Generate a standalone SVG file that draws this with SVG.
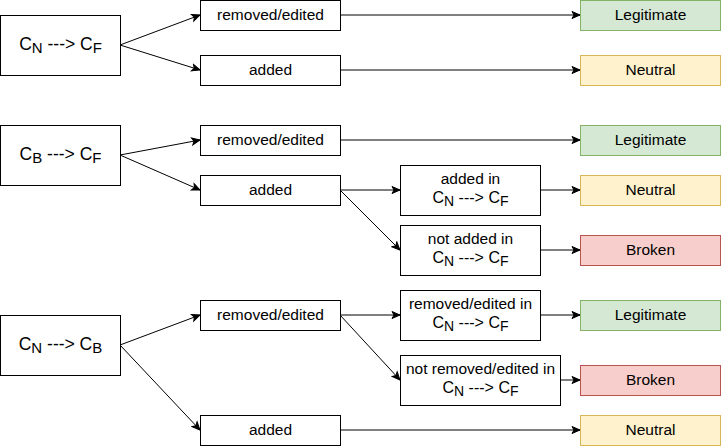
<svg xmlns="http://www.w3.org/2000/svg" width="721" height="446" viewBox="0 0 721 446">
<style>
  .box { fill: #ffffff; stroke: #000000; stroke-width: 1; }
  .legit { fill: #d5e8d4; stroke: #82b366; stroke-width: 1; }
  .neutral { fill: #fff2cc; stroke: #d6b656; stroke-width: 1; }
  .broken { fill: #f8cecc; stroke: #b85450; stroke-width: 1; }
  text { font-family: "Liberation Sans", Arial, Helvetica, sans-serif; fill: #000000; text-anchor: middle; }
  .lbl { font-size: 15.5px; }
  .big { font-size: 17.5px; }
  .bsub { font-size: 15px; }
  .ml { font-size: 16px; }
  .msub { font-size: 14px; }
  .edge { fill: none; stroke: #000000; stroke-width: 1; marker-end: url(#arrow); }
</style>
<defs>
  <marker id="arrow" markerUnits="userSpaceOnUse" markerWidth="10" markerHeight="10" viewBox="0 0 10 10" refX="9" refY="5" orient="auto">
    <path d="M1,1.5 L9,5 L1,8.5 L3,5 Z" fill="#000000" stroke="#000000" stroke-width="1"/>
  </marker>
</defs>
<rect width="721" height="446" fill="#ffffff"/>

<g id="connectors">
  <path class="edge" d="M120,45 L200,15"/>
  <path class="edge" d="M120,45 L200,70"/>
  <path class="edge" d="M340,15 L580,15"/>
  <path class="edge" d="M340,70 L580,70"/>

  <path class="edge" d="M120,155 L200,140"/>
  <path class="edge" d="M120,155 L200,190"/>
  <path class="edge" d="M340,140 L580,140"/>
  <path class="edge" d="M340,190 L400,190"/>
  <path class="edge" d="M340,190 L400,250"/>
  <path class="edge" d="M540,190 L580,190"/>
  <path class="edge" d="M540,250 L580,250"/>

  <path class="edge" d="M120,345 L200,315"/>
  <path class="edge" d="M120,345 L200,430"/>
  <path class="edge" d="M340,315 L400,315"/>
  <path class="edge" d="M340,315 L400,380"/>
  <path class="edge" d="M540,315 L580,315"/>
  <path class="edge" d="M560,380 L580,380"/>
  <path class="edge" d="M340,430 L580,430"/>
</g>

<!-- Group 1 -->
<g id="cn-cf-1">
  <rect class="box" x="0.5" y="15.5" width="120" height="60"/>
  <text class="big" x="60.5" y="49.5">C<tspan class="bsub" dy="3.5">N</tspan><tspan dy="-3.5"> ---&gt; C</tspan><tspan class="bsub" dy="3.5">F</tspan></text>
</g>
<g id="g1-removed">
  <rect class="box" x="200.5" y="0.5" width="140" height="30"/>
  <text class="lbl" x="270.5" y="20">removed/edited</text>
</g>
<g id="g1-added">
  <rect class="box" x="200.5" y="55.5" width="140" height="30"/>
  <text class="lbl" x="270.5" y="75">added</text>
</g>
<g id="g1-legit">
  <rect class="legit" x="580.5" y="0.5" width="140" height="30"/>
  <text class="lbl" x="650.5" y="20">Legitimate</text>
</g>
<g id="g1-neutral">
  <rect class="neutral" x="580.5" y="55.5" width="140" height="30"/>
  <text class="lbl" x="650.5" y="75">Neutral</text>
</g>

<!-- Group 2 -->
<g id="cb-cf">
  <rect class="box" x="0.5" y="125.5" width="120" height="60"/>
  <text class="big" x="60.5" y="159.5">C<tspan class="bsub" dy="3.5">B</tspan><tspan dy="-3.5"> ---&gt; C</tspan><tspan class="bsub" dy="3.5">F</tspan></text>
</g>
<g id="g2-removed">
  <rect class="box" x="200.5" y="125.5" width="140" height="30"/>
  <text class="lbl" x="270.5" y="145">removed/edited</text>
</g>
<g id="g2-added">
  <rect class="box" x="200.5" y="175.5" width="140" height="30"/>
  <text class="lbl" x="270.5" y="195">added</text>
</g>
<g id="g2-added-in">
  <rect class="box" x="400.5" y="165.5" width="140" height="50"/>
  <text class="lbl" x="470.5" y="184">added in</text>
  <text class="ml" x="470.5" y="203">C<tspan class="msub" dy="3">N</tspan><tspan dy="-3"> ---&gt; C</tspan><tspan class="msub" dy="3">F</tspan></text>
</g>
<g id="g2-not-added-in">
  <rect class="box" x="400.5" y="225.5" width="140" height="50"/>
  <text class="lbl" x="470.5" y="244">not added in</text>
  <text class="ml" x="470.5" y="263">C<tspan class="msub" dy="3">N</tspan><tspan dy="-3"> ---&gt; C</tspan><tspan class="msub" dy="3">F</tspan></text>
</g>
<g id="g2-legit">
  <rect class="legit" x="580.5" y="125.5" width="140" height="30"/>
  <text class="lbl" x="650.5" y="145">Legitimate</text>
</g>
<g id="g2-neutral">
  <rect class="neutral" x="580.5" y="175.5" width="140" height="30"/>
  <text class="lbl" x="650.5" y="195">Neutral</text>
</g>
<g id="g2-broken">
  <rect class="broken" x="580.5" y="235.5" width="140" height="30"/>
  <text class="lbl" x="650.5" y="255">Broken</text>
</g>

<!-- Group 3 -->
<g id="cn-cb">
  <rect class="box" x="0.5" y="315.5" width="120" height="60"/>
  <text class="big" x="60.5" y="349.5">C<tspan class="bsub" dy="3.5">N</tspan><tspan dy="-3.5"> ---&gt; C</tspan><tspan class="bsub" dy="3.5">B</tspan></text>
</g>
<g id="g3-removed">
  <rect class="box" x="200.5" y="300.5" width="140" height="30"/>
  <text class="lbl" x="270.5" y="320">removed/edited</text>
</g>
<g id="g3-added">
  <rect class="box" x="200.5" y="415.5" width="140" height="30"/>
  <text class="lbl" x="270.5" y="435">added</text>
</g>
<g id="g3-removed-in">
  <rect class="box" x="400.5" y="290.5" width="140" height="50"/>
  <text class="lbl" x="470.5" y="309">removed/edited in</text>
  <text class="ml" x="470.5" y="328">C<tspan class="msub" dy="3">N</tspan><tspan dy="-3"> ---&gt; C</tspan><tspan class="msub" dy="3">F</tspan></text>
</g>
<g id="g3-not-removed-in">
  <rect class="box" x="400.5" y="355.5" width="160" height="50"/>
  <text class="lbl" x="480.5" y="374">not removed/edited in</text>
  <text class="ml" x="480.5" y="393">C<tspan class="msub" dy="3">N</tspan><tspan dy="-3"> ---&gt; C</tspan><tspan class="msub" dy="3">F</tspan></text>
</g>
<g id="g3-legit">
  <rect class="legit" x="580.5" y="300.5" width="140" height="30"/>
  <text class="lbl" x="650.5" y="320">Legitimate</text>
</g>
<g id="g3-broken">
  <rect class="broken" x="580.5" y="365.5" width="140" height="30"/>
  <text class="lbl" x="650.5" y="385">Broken</text>
</g>
<g id="g3-neutral">
  <rect class="neutral" x="580.5" y="415.5" width="140" height="30"/>
  <text class="lbl" x="650.5" y="435">Neutral</text>
</g>
</svg>
